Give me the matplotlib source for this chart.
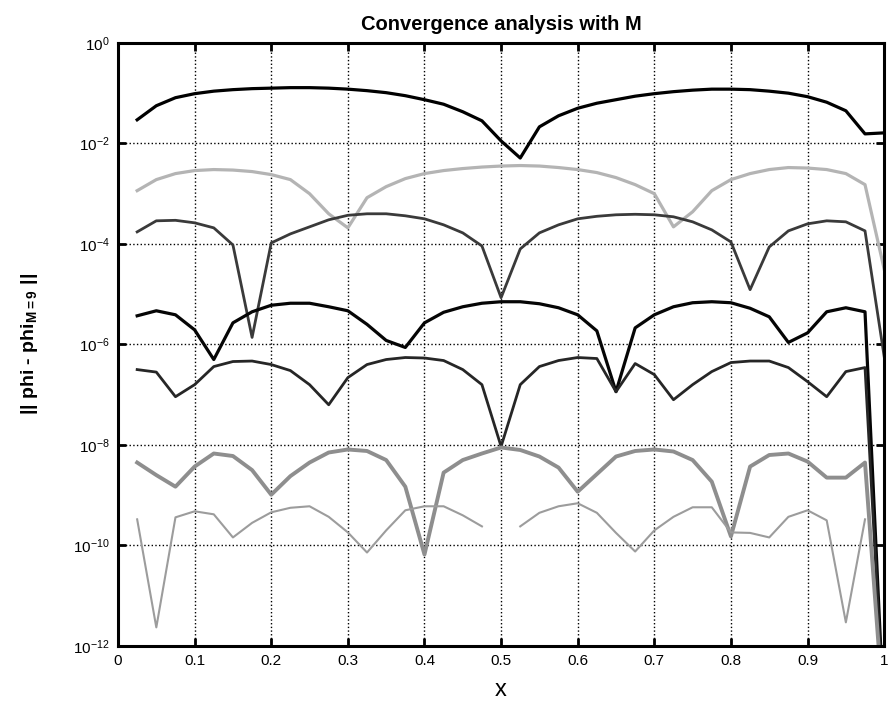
import numpy as np
import matplotlib.pyplot as plt

plt.rcParams['font.family'] = ['Liberation Sans', 'DejaVu Sans']
plt.rcParams['mathtext.fontset'] = 'custom'
plt.rcParams['mathtext.rm'] = 'Liberation Sans'
plt.rcParams['mathtext.bf'] = 'Liberation Sans:bold'

# x grid 0:0.025:1, values are log10 of the error, nan = zero (not drawn)
x = np.linspace(0, 1, 41)

err1 = [np.nan, -1.53, -1.25, -1.09, -1.01, -0.96, -0.93, -0.91, -0.90, -0.89,
        -0.89, -0.90, -0.92, -0.95, -0.99, -1.05, -1.13, -1.22, -1.37, -1.55,
        -1.95, -2.29, -1.67, -1.45, -1.30, -1.20, -1.13, -1.06, -1.01, -0.97,
        -0.94, -0.92, -0.92, -0.93, -0.96, -1.00, -1.07, -1.18, -1.35, -1.81,
        -1.79]
err2 = [np.nan, -2.94, -2.72, -2.60, -2.54, -2.52, -2.53, -2.56, -2.62, -2.72,
        -3.00, -3.40, -3.68, -3.08, -2.86, -2.70, -2.60, -2.54, -2.50, -2.47,
        -2.45, -2.44, -2.45, -2.48, -2.52, -2.58, -2.68, -2.82, -3.00, -3.66,
        -3.36, -2.94, -2.72, -2.60, -2.52, -2.48, -2.49, -2.52, -2.60, -2.82,
        -4.50]
err3 = [np.nan, -3.76, -3.54, -3.53, -3.58, -3.68, -4.02, -5.86, -3.98, -3.80,
        -3.66, -3.52, -3.43, -3.40, -3.40, -3.44, -3.50, -3.62, -3.78, -4.04,
        -5.07, -4.10, -3.78, -3.62, -3.50, -3.45, -3.42, -3.41, -3.42, -3.46,
        -3.56, -3.72, -3.96, -4.91, -4.06, -3.74, -3.60, -3.54, -3.56, -3.74,
        -6.24]
err4 = [np.nan, -5.43, -5.33, -5.41, -5.71, -6.30, -5.57, -5.35, -5.22, -5.18,
        -5.18, -5.25, -5.33, -5.60, -5.92, -6.06, -5.57, -5.36, -5.25, -5.18,
        -5.15, -5.15, -5.19, -5.27, -5.41, -5.73, -6.94, -5.67, -5.41, -5.25,
        -5.17, -5.15, -5.17, -5.28, -5.45, -5.96, -5.77, -5.35, -5.27, -5.35,
        -13.5]
err5 = [np.nan, -6.50, -6.55, -7.04, -6.80, -6.44, -6.34, -6.33, -6.40, -6.52,
        -6.80, -7.20, -6.66, -6.40, -6.30, -6.26, -6.27, -6.32, -6.50, -6.80,
        -8.03, -6.80, -6.44, -6.32, -6.26, -6.28, -6.94, -6.38, -6.60, -7.10,
        -6.80, -6.54, -6.36, -6.33, -6.33, -6.46, -6.74, -7.04, -6.54, -6.46,
        -13.5]
err6 = [np.nan, -8.35, -8.60, -8.83, -8.43, -8.17, -8.22, -8.50, -8.99, -8.62,
        -8.35, -8.15, -8.09, -8.12, -8.30, -8.83, -10.18, -8.55, -8.30, -8.17,
        -8.05, -8.10, -8.23, -8.45, -8.93, -8.58, -8.23, -8.12, -8.09, -8.13,
        -8.30, -8.73, -9.82, -8.43, -8.20, -8.17, -8.33, -8.65, -8.65, -8.35,
        -13.5]
err7 = [np.nan, -9.48, -11.63, -9.44, -9.32, -9.38, -9.84, -9.55, -9.34, -9.25,
        -9.22, -9.43, -9.74, -10.14, -9.70, -9.30, -9.22, -9.22, -9.40, -9.62,
        np.nan, -9.62, -9.35, -9.22, -9.16, -9.35, -9.75, -10.12, -9.70, -9.43,
        -9.24, -9.24, -9.74, -9.75, -9.84, -9.43, -9.30, -9.50, -11.53, -9.48,
        np.nan]

series = [err1, err2, err3, err4, err5, err6, err7]
colors = ['#000000', '#b4b4b4', '#3a3a3a', '#050505', '#262626', '#8e8e8e', '#9c9c9c']
widths = [2.3, 2.3, 2.0, 2.3, 2.0, 2.8, 1.5]

fig = plt.figure(figsize=(8.94, 7.07), dpi=100)
ax = fig.add_axes([0.132, 0.0863, 0.857, 0.853])

for e, c, w in zip(series, colors, widths):
    ax.semilogy(x, 10.0 ** np.array(e), color=c, lw=w)

ax.set_xlim(0, 1)
ax.set_ylim(1e-12, 1)
ax.set_xticks(np.arange(0, 1.01, 0.1))
ax.set_xticklabels(['0', '0.1', '0.2', '0.3', '0.4', '0.5', '0.6', '0.7', '0.8', '0.9', '1'])
ax.set_yticks([1e-12, 1e-10, 1e-8, 1e-6, 1e-4, 1e-2, 1])
ax.minorticks_off()
ax.grid(True, color='black', linestyle=':', lw=1.0)
ax.tick_params(direction='in', length=6, width=2, top=True, right=True,
               labelsize=11, pad=6)
for s in ax.spines.values():
    s.set_linewidth(2.2)

ax.set_title('Convergence analysis with M', fontsize=14.5, fontweight='bold', pad=9)
ax.set_xlabel('x', fontsize=17, labelpad=8)
ax.set_ylabel(r'|| phi - phi$_{\mathbf{M{=}9}}$ ||', fontsize=14,
              fontweight='bold', labelpad=24)

fig.savefig('out.png', dpi=100)
